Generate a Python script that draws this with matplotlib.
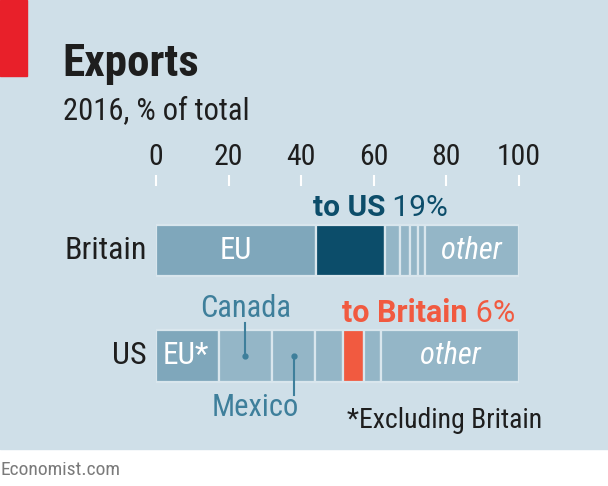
import matplotlib
matplotlib.use("Agg")
import matplotlib.pyplot as plt
from matplotlib import font_manager

# pick a narrow-ish font if one is there
names = {f.name for f in font_manager.fontManager.ttflist}
FONT = "Lato"
for cand in ["Roboto Condensed", "Open Sans Condensed", "DejaVu Sans Condensed", "Roboto", "Lato"]:
    if cand in names:
        FONT = cand
        break
WIDE = "Roboto" if "Roboto" in names else FONT
plt.rcParams["font.family"] = [FONT, "DejaVu Sans"]

# data
countries = ["Britain", "US"]
britain_parts = ["EU", "US", "", "", "", "", "other"]
britain_share = [44, 19, 4.1, 3.0, 2.2, 1.7, 26.0]
us_parts = ["EU*", "Canada", "Mexico", "", "Britain", "", "other"]
us_share = [17.3, 14.7, 11.9, 7.7, 5.7, 4.8, 37.9]
ticks = [0, 20, 40, 60, 80, 100]

BG = "#cfdfe8"
GAP = "#d9e6ed"
MID = "#7fa7bb"
LIGHT = "#94b6c7"
DARK = "#0c4d6a"
ORANGE = "#f15a40"
TEAL = "#3e7f9b"
INK = "#1e1e1e"

britain_cols = [MID, DARK, LIGHT, LIGHT, LIGHT, LIGHT, LIGHT]
us_cols = [MID, LIGHT, LIGHT, LIGHT, ORANGE, LIGHT, LIGHT]

W, H = 608, 486
fig = plt.figure(figsize=(W / 100, H / 100), dpi=100)
fig.patch.set_facecolor("white")

# background panel + red tag
fig.patches.append(plt.Rectangle((0, 1 - 449 / H), 1, 449 / H, transform=fig.transFigure,
                                 color=BG, zorder=-10))
fig.patches.append(plt.Rectangle((0, 1 - 76 / H), 27 / W, 76 / H, transform=fig.transFigure,
                                 color="#e8202a", zorder=-9))

fig.text(62 / W, 1 - 76 / H, "Exports", fontsize=32.5, fontweight="bold", color=INK, va="baseline")
fig.text(63 / W, 1 - 119 / H, "2016, % of total", fontsize=22, color=INK, va="baseline")
fig.text(0, 1 - 475 / H, "Economist.com", fontsize=14, color="#7a7a7a", va="baseline")

ax_top, ax_bot = 186, 449
ax = fig.add_axes([156 / W, 1 - ax_bot / H, (519 - 156) / W, (ax_bot - ax_top) / H])
ax.set_facecolor("none")
ax.set_xlim(0, 100)
ax.set_ylim(1 + (ax_bot - 356) / 105.5, -(250.5 - ax_top) / 105.5)
for s in ax.spines.values():
    s.set_visible(False)
ax.set_yticks([])

ax.xaxis.tick_top()
ax.set_xticks(ticks)
ax.set_xticklabels([str(t) for t in ticks])
ax.tick_params(axis="x", length=8, width=1.5, pad=3, labelsize=21.5, colors="white")
ax.xaxis.get_major_ticks()[0].tick2line.set_color(INK)
for lab in ax.get_xticklabels():
    lab.set_color(INK)

h = 0.49
for row, (shares, cols) in enumerate([(britain_share, britain_cols), (us_share, us_cols)]):
    left = 0
    for v, c in zip(shares, cols):
        ax.barh(row, v, left=left, height=h, color=c, edgecolor=GAP, linewidth=1.6)
        left += v

for row, name in enumerate(countries):
    ax.text(-2.5, row, name, ha="right", va="center", fontsize=23, color=INK)

# labels inside bars
ax.text(britain_share[0] / 2, 0, "EU", ha="center", va="center", fontsize=22, color="white")
ax.text(100 - britain_share[-1] / 2, 0, "other", ha="center", va="center", fontsize=22,
        color="white", style="italic")
ax.text(1.8, 1, "EU*", ha="left", va="center", fontsize=22.5, color="white")
ax.text(100 - us_share[-1] / 2, 1, "other", ha="center", va="center", fontsize=22,
        color="white", style="italic")

# callouts
us_left = britain_share[0]
t1 = ax.text(us_left - 0.8, -0.327, "to US", fontsize=21.5, fontweight="bold", color=DARK,
             va="baseline", family=[WIDE, "DejaVu Sans"])
ax.annotate(f" {britain_share[1]:.0f}%", xy=(1, 0), xycoords=t1, fontsize=21.5, color=DARK,
            va="bottom", family=[WIDE, "DejaVu Sans"])

uk_left = sum(us_share[:4])
t2 = ax.text(uk_left - 0.3, 0.675, "to Britain", fontsize=22, fontweight="bold", color=ORANGE,
             va="baseline", family=[WIDE, "DejaVu Sans"])
ax.annotate(" 6%", xy=(1, 0), xycoords=t2, fontsize=22, color=ORANGE, va="bottom",
            family=[WIDE, "DejaVu Sans"])

can_x = us_share[0] + us_share[1] / 2
ax.plot([can_x, can_x], [0.69, 1.0], color=TEAL, lw=1.5)
ax.plot(can_x, 1.0, "o", color=TEAL, ms=3.5)
ax.text(can_x, 0.628, "Canada", ha="center", va="baseline", fontsize=22, color=TEAL)

mex_x = us_share[0] + us_share[1] + us_share[2] / 2
ax.plot([mex_x, mex_x], [1.0, 1.37], color=TEAL, lw=1.5)
ax.plot(mex_x, 1.0, "o", color=TEAL, ms=3.5)
ax.text(mex_x + 1.3, 1.57, "Mexico", ha="right", va="baseline", fontsize=22, color=TEAL)

fig.text(347 / W, 1 - 428 / H, "*Excluding Britain", fontsize=20, color=INK, va="baseline")

plt.savefig("out.png", dpi=100, facecolor=fig.get_facecolor())
